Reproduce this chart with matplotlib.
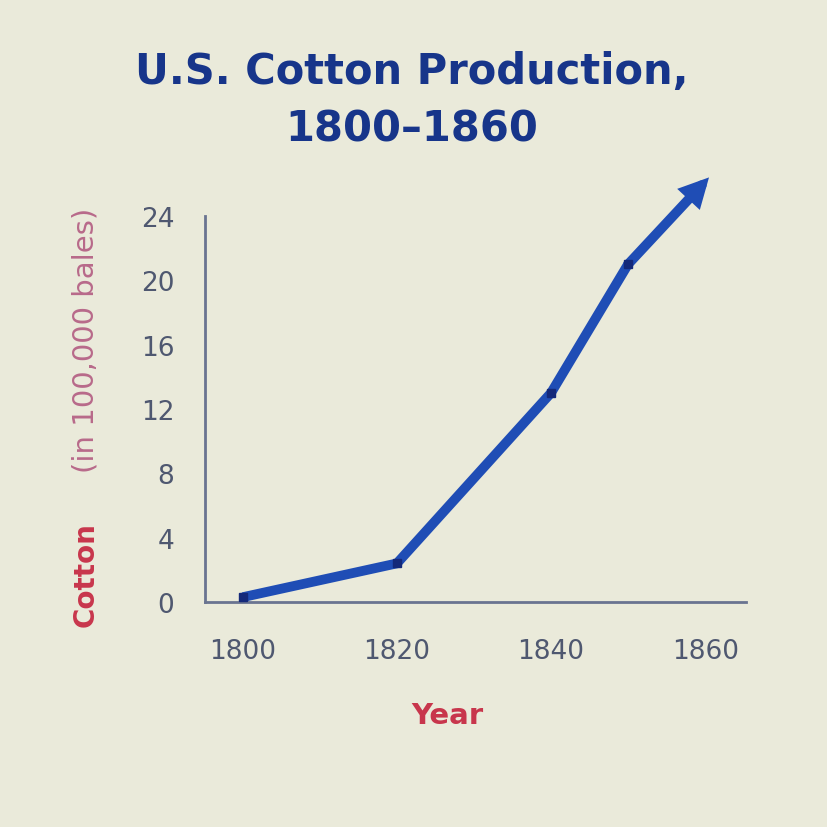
import matplotlib
matplotlib.use("Agg")
import matplotlib.pyplot as plt

years = [1800, 1820, 1840, 1850, 1860]
bales = [0.3, 2.4, 13.0, 21.0, 26.4]   # in 100,000 bales
y_ticks = [0, 4, 8, 12, 16, 20, 24]
x_ticks = [1800, 1820, 1840, 1860]

bg = "#eaeada"
line_c = "#1f4db5"
fig = plt.figure(figsize=(8.28, 8.28), dpi=100, facecolor=bg)
ax = fig.add_axes([205 / 828, 1 - 603 / 828, 541 / 828, 386 / 828], facecolor=bg)

ax.plot(years[:-1], bales[:-1], color=line_c, lw=7, solid_capstyle="butt",
        solid_joinstyle="miter", clip_on=False, zorder=3)
ax.plot(years[:-1], bales[:-1], ls="none", marker="s", ms=6, color="#14297a",
        clip_on=False, zorder=4)
# last segment drawn as an arrow
ax.annotate("", xy=(years[-1] + 0.5, bales[-1]), xytext=(years[-2], bales[-2]),
            arrowprops=dict(arrowstyle="-|>,head_length=0.35,head_width=0.18",
                            mutation_scale=30, lw=7, color=line_c, joinstyle="miter",
                            shrinkA=0, shrinkB=0),
            annotation_clip=False, zorder=3)

ax.set_xlim(1795.1, 1865.3)
ax.set_ylim(0, 23.7)
ax.set_xticks(x_ticks)
ax.set_yticks(y_ticks)
ax.tick_params(length=0, labelsize=19, labelcolor="#4f5870")
ax.tick_params(axis="x", pad=26)
ax.tick_params(axis="y", pad=22)
for s in ["top", "right"]:
    ax.spines[s].set_visible(False)
for s in ["left", "bottom"]:
    ax.spines[s].set_color("#6a7490")
    ax.spines[s].set_linewidth(2)

title_kw = dict(ha="center", va="center", fontsize=30, fontweight="bold", color="#17358a")
fig.text(412 / 828, 1 - 72 / 828, "U.S. Cotton Production,", **title_kw)
fig.text(412 / 828, 1 - 130 / 828, "1800–1860", **title_kw)

fig.text(447 / 828, 1 - 716 / 828, "Year", ha="center", va="center",
         fontsize=21, fontweight="bold", color="#c8364c")
fig.text(86 / 828, 1 - 575 / 828, "Cotton", ha="center", va="center", rotation=90,
         fontsize=20, fontweight="bold", color="#c8364c")
fig.text(86 / 828, 1 - 340 / 828, "(in 100,000 bales)", ha="center", va="center",
         rotation=90, fontsize=21, color="#b86a8a")

fig.savefig("out.png", dpi=100, facecolor=bg)
